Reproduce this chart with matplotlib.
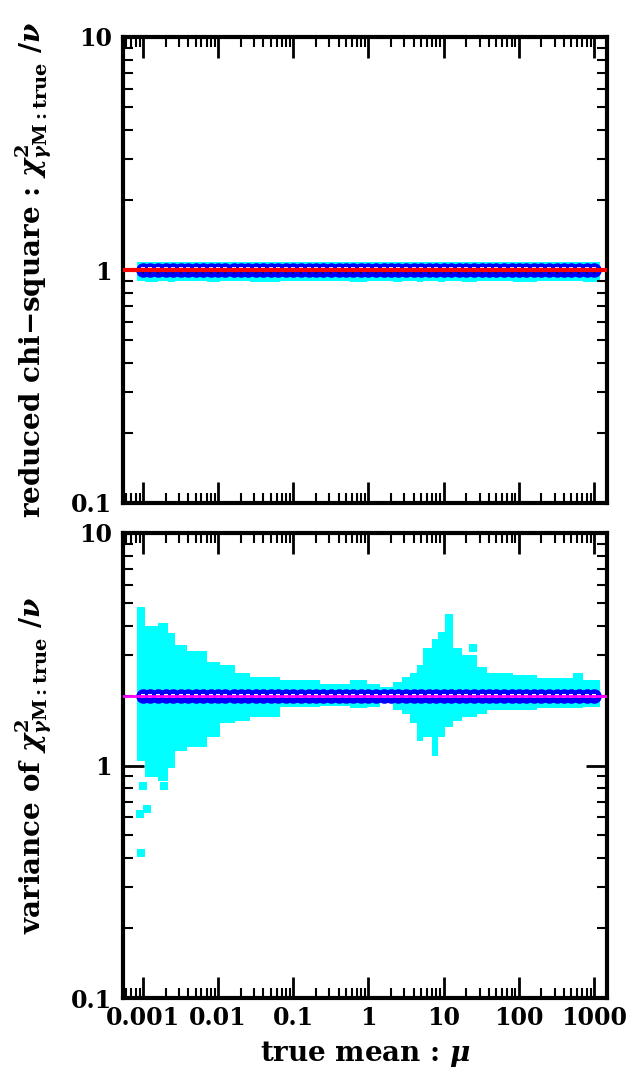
import numpy as np
import matplotlib
matplotlib.use('Agg')
import matplotlib.pyplot as plt
from matplotlib.ticker import LogLocator, NullFormatter

plt.rcParams['font.family'] = ['DejaVu Serif']
plt.rcParams['font.weight'] = 'bold'
plt.rcParams['mathtext.fontset'] = 'dejavuserif'

# ---------------- data ----------------
mantissas = [1.0, 1.25, 1.6, 2.0, 2.5, 3.2, 4.0, 5.0, 6.3, 8.0]
decades = [0.001, 0.01, 0.1, 1.0, 10.0, 100.0]
mu_grid = [m * d for d in decades for m in mantissas] + [1000.0]

redchi_mean = [1.0] * len(mu_grid)      # blue: mean reduced chi-square
var_mean = [2.0] * len(mu_grid)         # blue: mean variance
redchi_expected = 1.0                   # red line
var_expected = 2.0                      # magenta line

# cyan scatter envelope (step edges in mu)
env_edges = [0.00083, 0.00106, 0.00158, 0.00215, 0.00267, 0.00385, 0.0071,
             0.0106, 0.0167, 0.0265, 0.0664, 0.226, 0.566, 0.953, 1.42, 2.11,
             2.78, 3.55, 4.40, 5.29, 6.97, 8.37, 10.4, 13.3, 17.5, 27.6, 37.5,
             83.2, 173.0, 522.0, 710.0, 1190.0]
var_hi = [4.8, 4.0, 4.1, 3.7, 3.3, 3.1, 2.78, 2.7, 2.5, 2.4, 2.33, 2.25, 2.33,
          2.25, 2.17, 2.28, 2.4, 2.49, 2.7, 3.2, 3.5, 3.75, 4.5, 3.2, 3.0, 2.65,
          2.49, 2.44, 2.37, 2.49, 2.33]
var_lo = [1.05, 0.89, 0.86, 0.98, 1.16, 1.2, 1.32, 1.52, 1.56, 1.61, 1.78, 1.81,
          1.76, 1.78, 1.87, 1.73, 1.67, 1.52, 1.28, 1.32, 1.1, 1.32, 1.46, 1.56,
          1.61, 1.67, 1.73, 1.73, 1.76, 1.76, 1.78]
redchi_hi = [1.08, 1.085, 1.08, 1.085, 1.08, 1.085, 1.08, 1.08, 1.085, 1.08,
             1.085, 1.08, 1.085, 1.08, 1.08, 1.085, 1.08, 1.08, 1.085, 1.08,
             1.085, 1.08, 1.08, 1.085, 1.08, 1.085, 1.08, 1.08, 1.085, 1.08, 1.08]
redchi_lo = [0.90, 0.89, 0.90, 0.89, 0.90, 0.90, 0.89, 0.90, 0.90, 0.89, 0.90,
             0.90, 0.89, 0.90, 0.90, 0.89, 0.90, 0.90, 0.89, 0.90, 0.90, 0.89,
             0.90, 0.90, 0.89, 0.90, 0.90, 0.89, 0.90, 0.90, 0.89]

# isolated cyan points in the variance panel
var_out_mu = [0.00093, 0.0009, 0.00112, 0.001, 0.0019, 24.4]
var_out_val = [0.42, 0.62, 0.65, 0.82, 0.82, 3.2]

xtick_vals = [0.001, 0.01, 0.1, 1, 10, 100, 1000]
xtick_labels = ['0.001', '0.01', '0.1', '1', '10', '100', '1000']
ytick_vals = [0.1, 1, 10]
ytick_labels = ['0.1', '1', '10']

CYAN = '#00ffff'
BLUE = '#0000ff'
MAGENTA = '#ff00ff'
RED = '#ff0000'

fig = plt.figure(figsize=(6.32, 10.8), dpi=100)
W, H = 632.0, 1080.0
left, right = 123 / W, 607 / W
ax1 = fig.add_axes([left, 1 - 503 / H, right - left, 466 / H])
ax2 = fig.add_axes([left, 1 - 998 / H, right - left, 465 / H])

xlim = (10 ** -3.266, 10 ** 3.173)


def style(ax):
    ax.set_xscale('log')
    ax.set_yscale('log')
    ax.set_xlim(*xlim)
    ax.set_ylim(0.1, 10)
    ax.set_xticks(xtick_vals)
    ax.set_yticks(ytick_vals)
    ax.set_yticklabels(ytick_labels)
    for axis in (ax.xaxis, ax.yaxis):
        axis.set_minor_locator(LogLocator(base=10, subs=np.arange(2, 10),
                                          numticks=100))
        axis.set_minor_formatter(NullFormatter())
    ax.tick_params(which='both', direction='in', top=True, right=True,
                   labelsize=17, color='black')
    ax.tick_params(which='major', length=15, width=2.0, pad=6)
    ax.tick_params(which='minor', length=7, width=1.5)
    ax.tick_params(axis='y', which='major', pad=8)
    for s in ax.spines.values():
        s.set_linewidth(3.0)


def envelope(ax, lo, hi):
    xs = env_edges
    ax.fill_between(xs, list(lo) + [lo[-1]], list(hi) + [hi[-1]],
                    step='post', color=CYAN, linewidth=0, zorder=1)


sub = r'$\chi^2_{\gamma\mathbf{M:true}}$'

# ---- top panel ----
style(ax1)
ax1.set_xticklabels([])
envelope(ax1, redchi_lo, redchi_hi)
ax1.plot(mu_grid, redchi_mean, 'o', color=BLUE, ms=10.5, mew=0, zorder=2)
ax1.plot(mu_grid, [v * 1.012 for v in redchi_mean], 's', color='#ffd0ff',
         ms=2.2, mew=0, zorder=3)
ax1.plot(mu_grid, [v * 0.975 for v in redchi_mean], 's', color='#000080',
         ms=1.8, mew=0, zorder=3)
ax1.axhline(redchi_expected, color=RED, lw=3, zorder=4)
ax1.set_ylabel('reduced chi$-$square : ' + sub + r' /$\nu$',
               fontsize=20, fontweight='bold', labelpad=12)

# ---- bottom panel ----
style(ax2)
ax2.set_xticklabels(xtick_labels)
envelope(ax2, var_lo, var_hi)
ax2.plot(var_out_mu, var_out_val, 's', color=CYAN, ms=5.5, mew=0, zorder=1)
ax2.plot(mu_grid, var_mean, 'o', color=BLUE, ms=10.5, mew=0, zorder=2)
ax2.plot(mu_grid, var_mean, 's', color='white', ms=2.5, mew=0, zorder=3)
ax2.axhline(var_expected, color=MAGENTA, lw=2, zorder=4)
ax2.set_ylabel('variance of ' + sub + r' /$\nu$',
               fontsize=20, fontweight='bold', labelpad=12)
ax2.set_xlabel(r'true mean : $\mu$', fontsize=20, fontweight='bold',
               labelpad=6)

fig.savefig('out.png', dpi=100)
